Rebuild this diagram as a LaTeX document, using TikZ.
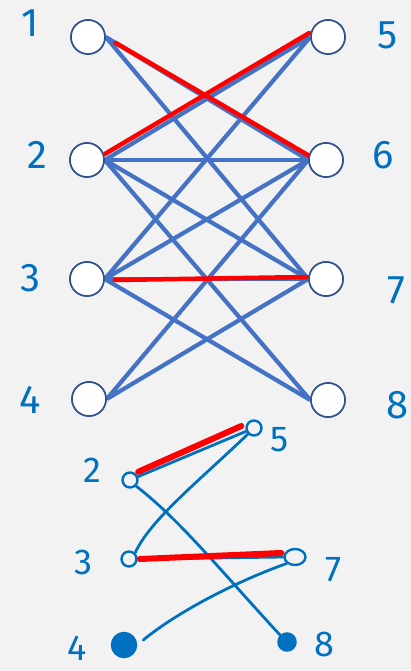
\documentclass[tikz,border=0pt]{standalone}
\usepackage{fontspec}
\usetikzlibrary{shapes.geometric}
\setmainfont{Fira Sans}
\begin{document}
\begin{tikzpicture}[x=1pt,y=-1pt,
  bigv/.style={circle,draw=circ,fill=white,line width=1.6pt,minimum size=34pt,inner sep=0pt},
  smallv/.style={circle,draw=ink,line width=2.4pt,minimum size=15pt,inner sep=0pt},
  fullv/.style={circle,draw=ink,fill=ink,line width=1.5pt,inner sep=0pt},
  edge/.style={draw=eblue,line width=4.2pt},
  redge/.style={draw=red,line width=4.5pt,line cap=round},
  hedge/.style={draw=ink,line width=2.8pt,line cap=round},
  hredge/.style={draw=red,line width=6pt,line cap=round},
  lab/.style={text=ink,font=\fontsize{40}{40}\selectfont,inner sep=0pt},
  slab/.style={text=ink,font=\fontsize{36}{36}\selectfont,inner sep=0pt}]
\definecolor{bg}{HTML}{F2F2F2}
\definecolor{circ}{HTML}{2F528F}
\definecolor{eblue}{HTML}{4472C4}
\definecolor{ink}{HTML}{0070C0}
\fill[bg] (0,0) rectangle (411,671);
\useasboundingbox (0,0) rectangle (411,671);
% top graph nodes
\node[bigv] (a1) at (88,37) {};
\node[bigv] (a2) at (87,160) {};
\node[bigv] (a3) at (87,279) {};
\node[bigv] (a4) at (89,399) {};
\node[bigv] (a5) at (328,37) {};
\node[bigv] (a6) at (326,160) {};
\node[bigv] (a7) at (326,279) {};
\node[bigv] (a8) at (328,400) {};
% top edges
\foreach \u/\v in {1/6,1/7,2/5,2/6,2/7,2/8,3/5,3/6,3/7,3/8,4/6,4/7}
  \draw[edge] (a\u.east) -- (a\v.west);
\draw[redge] ([xshift=10pt,yshift=-6pt]a1.east) -- ([xshift=3pt,yshift=3pt]a6.west);
\draw[redge] ([yshift=6pt]a2.east) -- ([xshift=-1pt,yshift=4pt]a5.west);
\draw[redge] ([xshift=10pt,yshift=-1pt]a3.east) -- ([xshift=-1pt,yshift=2pt]a7.west);
% redraw circles on top
\foreach \i in {1,...,8} \node[bigv] at (a\i) {};
% top labels
\node[lab] (t1) at (30,23) {1};
\node[lab] (t2) at (37,155) {2};
\node[lab] (t3) at (30,278) {3};
\node[lab] (t4) at (30,400) {4};
\node[lab] (t5) at (388,35) {5};
\node[lab] (t6) at (383,155) {6};
\node[lab] (t7) at (396,290) {7};
\node[lab] (t8) at (398,405) {8};
% bottom graph
\node[smallv] (b2) at (130,480) {};
\node[smallv] (b5) at (254,428) {};
\node[smallv] (b3) at (129,559) {};
\node[ellipse,draw=ink,line width=2.4pt,inner sep=0pt,minimum width=21pt,minimum height=16pt] (b7) at (295,557) {};
\node[fullv,minimum size=25pt] (b4) at (124,645) {};
\node[fullv,minimum size=18pt] (b8) at (287,642) {};
\draw[hedge] (b2) -- (b5);
\draw[hedge] (b5.south west) .. controls (200,480) and (150,520) .. (b3.north east);
\draw[hedge] (b2.south east) .. controls (180,520) and (220,570) .. (b8.north west);
\draw[hedge] (b3.east) -- (b7.west);
\draw[hedge] (b7.south west) .. controls (240,580) and (180,610) .. ([xshift=6pt,yshift=5pt]b4.east);
\draw[hredge] ([xshift=2pt,yshift=2pt]b2.north east) -- ([xshift=-4pt,yshift=2pt]b5.west);
\draw[hredge] ([xshift=2pt]b3.east) -- ([xshift=-2pt,yshift=4pt]b7.west);
\node[slab] (s2) at (92,470) {2};
\node[slab] (s5) at (280,440) {5};
\node[slab] (s3) at (83,562) {3};
\node[slab] (s7) at (333,570) {7};
\node[slab] (s4) at (77,648) {4};
\node[slab] (s8) at (324,644) {8};
\end{tikzpicture}
\end{document}
